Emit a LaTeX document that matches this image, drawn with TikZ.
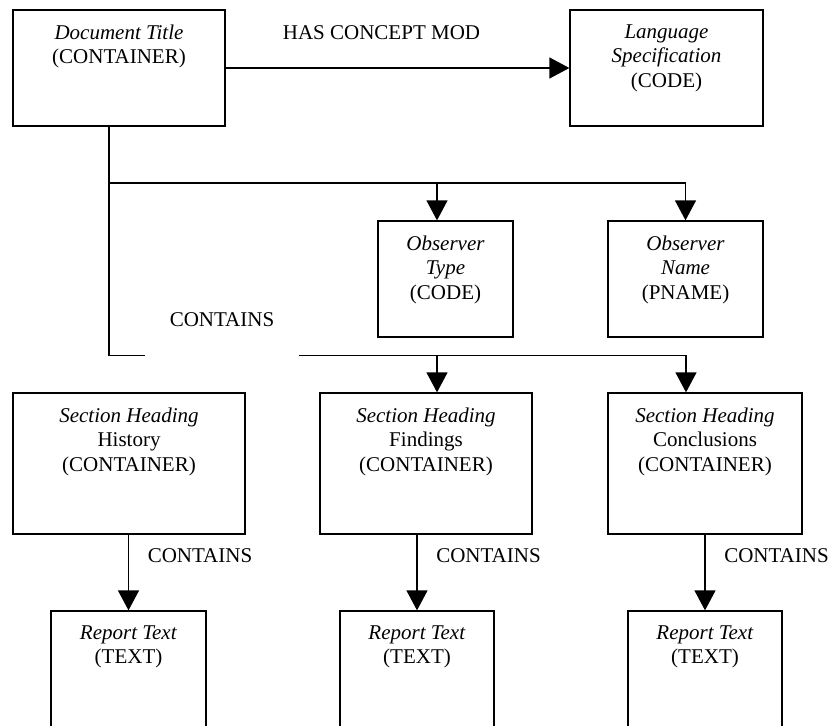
\documentclass[tikz,border=0pt]{standalone}
\usepackage{fontspec}
\setmainfont{Liberation Serif}
\usepackage{tikz}
\usetikzlibrary{positioning, arrows.meta}

\tikzset{
  box/.style={draw, line width=1.3pt, inner sep=0pt, minimum height=116pt},
  boxtext/.style={inner sep=0pt, align=center, font=\fontsize{21}{24.5}\selectfont},
  relline/.style={line width=1.3pt},
  relarrow/.style={line width=1.3pt, -{Triangle[length=20pt, width=21pt]}},
  rellabel/.style={inner sep=0pt, font=\fontsize{21}{24.5}\selectfont},
}

\begin{document}
\begin{tikzpicture}[x=1pt, y=-1pt]

\useasboundingbox (0,0) rectangle (832,725);

% Document title and its concept modifier
\node[box, minimum width=212pt] (doc) at (119,68) {};
\node[boxtext, below=15pt of doc.north] (doctxt) {\textit{Document Title}\\(CONTAINER)};
\node[box, minimum width=193pt] (lang) at (666.5,68) {};
\node[boxtext, below=15pt of lang.north] (langtxt) {\textit{Language}\\\textit{Specification}\\(CODE)};
\draw[relarrow] (doc) -- (lang);
\node[rellabel] (hcm) at (381.5,33) {HAS CONCEPT MOD};

% Observer context
\node[box, minimum width=135pt] (obstype) at (445.5,279) {};
\node[boxtext, below=15pt of obstype.north] (obstypetxt) {\textit{Observer}\\\textit{Type}\\(CODE)};
\node[box, minimum width=155pt] (obsname) at (685.5,279) {};
\node[boxtext, below=15pt of obsname.north] (obsnametxt) {\textit{Observer}\\\textit{Name}\\(PNAME)};

% Section headings
\node[box, minimum width=232pt, minimum height=141pt] (sechist) at (129,463.5) {};
\node[boxtext, below=15pt of sechist.north] (sechisttxt) {\textit{Section Heading}\\History\\(CONTAINER)};
\node[box, minimum width=212pt, minimum height=141pt] (secfind) at (426,463.5) {};
\node[boxtext, below=15pt of secfind.north] (secfindtxt) {\textit{Section Heading}\\Findings\\(CONTAINER)};
\node[box, minimum width=194pt, minimum height=141pt] (secconc) at (705,463.5) {};
\node[boxtext, below=15pt of secconc.north] (secconctxt) {\textit{Section Heading}\\Conclusions\\(CONTAINER)};

% Report texts (cut at the bottom)
\node[box, minimum width=155pt, minimum height=141pt] (rephist) at (128.5,681.5) {};
\node[boxtext, below=15pt of rephist.north] (rephisttxt) {\textit{Report Text}\\(TEXT)};
\node[box, minimum width=154pt, minimum height=141pt] (repfind) at (417,681.5) {};
\node[boxtext, below=15pt of repfind.north] (repfindtxt) {\textit{Report Text}\\(TEXT)};
\node[box, minimum width=154pt, minimum height=141pt] (repconc) at (705,681.5) {};
\node[boxtext, below=15pt of repconc.north] (repconctxt) {\textit{Report Text}\\(TEXT)};

% Trunk and buses
\coordinate (trunktop) at (109,183);
\coordinate (trunkbot) at (109,355.5);
\coordinate (taptype) at (437,183);
\coordinate (tapfind) at (437,355.5);
\coordinate (tapconc) at (686,355.5);
\draw[relline] (doc.south -| trunktop) -- (trunkbot);
\draw[relarrow] (trunktop) -| (obsname.north);
\draw[relarrow] (taptype) -- (taptype |- obstype.north);
\draw[relarrow] (trunkbot) -- (tapconc) -- (tapconc |- secconc.north);
\draw[relarrow] (tapfind) -- (tapfind |- secfind.north);
\node[rellabel, fill=white, minimum width=154pt, minimum height=71pt] (contbus) at (222,320) {CONTAINS};

% Sections contain report texts
\draw[relarrow] (sechist.south -| rephist) -- (rephist);
\draw[relarrow] (secfind.south -| repfind) -- (repfind);
\draw[relarrow] (secconc) -- (repconc);
\node[rellabel] (conthist) at (200,556) {CONTAINS};
\node[rellabel] (contfind) at (488.5,556) {CONTAINS};
\node[rellabel] (contconc) at (776.5,556) {CONTAINS};

\end{tikzpicture}
\end{document}
